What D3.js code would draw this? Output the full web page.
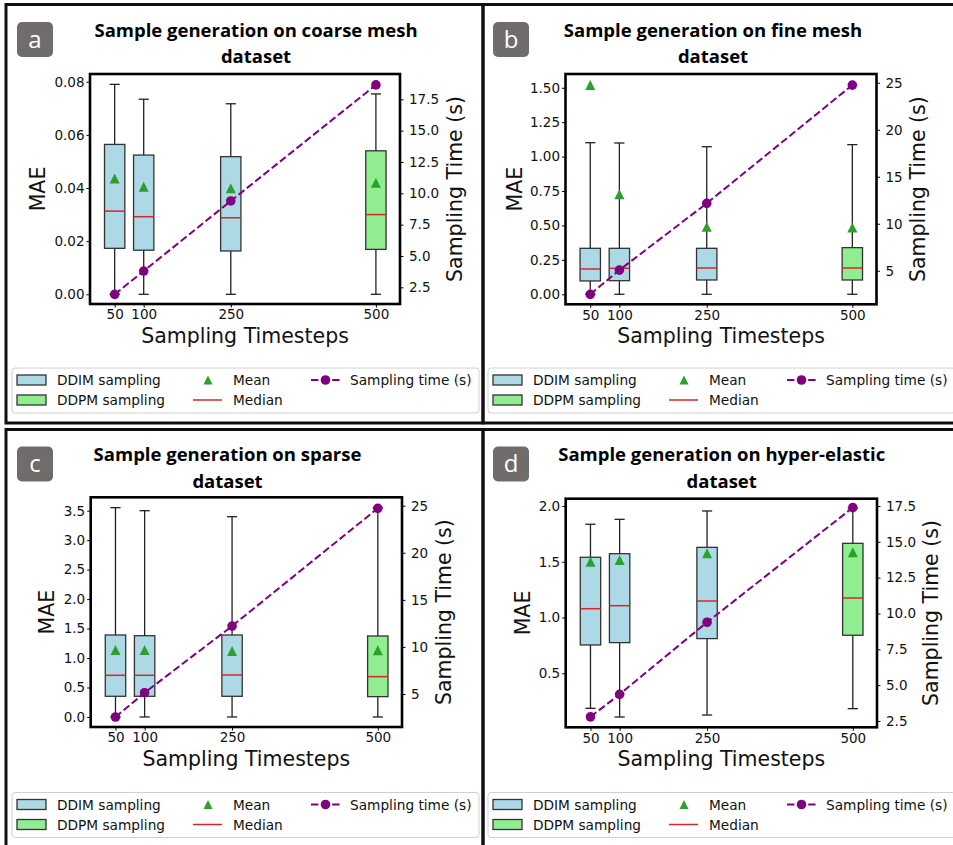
<!DOCTYPE html>
<html>
<head>
<meta charset="utf-8">
<script src="https://cdn.jsdelivr.net/npm/d3@7"></script>
<style>
  body { margin: 0; background: #fff; }
  svg { display: block; }
</style>
</head>
<body>
<svg id="fig" width="953" height="845"></svg>
<script>
// sampling timesteps (x categories)
const steps = [50, 100, 250, 500];

// a: coarse mesh
const coarseLow = [0, 0, 0, 0];
const coarseQ1 = [0.0173, 0.0166, 0.0163, 0.0169];
const coarseMedian = [0.0313, 0.0292, 0.0288, 0.0300];
const coarseQ3 = [0.0564, 0.0524, 0.0518, 0.0540];
const coarseHigh = [0.0790, 0.0734, 0.0717, 0.0754];
const coarseMean = [0.0436, 0.0405, 0.0399, 0.0420];
const coarseTime = [1.94, 3.80, 9.39, 18.65];

// b: fine mesh
const fineLow = [0, 0, 0, 0];
const fineQ1 = [0.097, 0.099, 0.104, 0.104];
const fineMedian = [0.184, 0.189, 0.191, 0.191];
const fineQ3 = [0.334, 0.334, 0.334, 0.339];
const fineHigh = [1.101, 1.099, 1.072, 1.087];
const fineMean = [1.52, 0.726, 0.491, 0.486];
const fineTime = [2.49, 5.07, 12.17, 24.75];

// c: sparse
const sparseLow = [0, 0, 0, 0];
const sparseQ1 = [0.351, 0.351, 0.351, 0.345];
const sparseMedian = [0.707, 0.707, 0.712, 0.684];
const sparseQ3 = [1.391, 1.379, 1.391, 1.374];
const sparseHigh = [3.551, 3.50, 3.398, 3.55];
const sparseMean = [1.137, 1.137, 1.12, 1.13];
const sparseTime = [2.56, 5.14, 12.22, 24.72];

// d: hyper-elastic
const hyperLow = [0.186, 0.108, 0.126, 0.183];
const hyperQ1 = [0.754, 0.775, 0.811, 0.841];
const hyperMedian = [1.079, 1.106, 1.148, 1.175];
const hyperQ3 = [1.540, 1.572, 1.629, 1.665];
const hyperHigh = [1.836, 1.880, 1.955, 1.98];
const hyperMean = [1.50, 1.516, 1.576, 1.585];
const hyperTime = [2.79, 4.36, 9.39, 17.39];

// tick labels
const coarseTicks = [0, 0.02, 0.04, 0.06, 0.08];
const fineTicks = [0, 0.25, 0.5, 0.75, 1.0, 1.25, 1.5];
const sparseTicks = [0, 0.5, 1.0, 1.5, 2.0, 2.5, 3.0, 3.5];
const hyperTicks = [0.5, 1.0, 1.5, 2.0];
const timeTicksA = [2.5, 5, 7.5, 10, 12.5, 15, 17.5];
const timeTicksB = [5, 10, 15, 20, 25];

const methods = ["DDIM", "DDIM", "DDIM", "DDPM"];
const fills = { DDIM: "#add8e6", DDPM: "#90ee90" };

const panels = [
  { label: "a", title: ["Sample generation on coarse mesh", "dataset"],
    low: coarseLow, q1: coarseQ1, med: coarseMedian, q3: coarseQ3, high: coarseHigh, mean: coarseMean, time: coarseTime,
    yTicks: coarseTicks, yFmt: ".2f", tTicks: timeTicksA, tFmt: ".1f",
    yDomain: [-0.00365, 0.0829], tDomain: [1.17, 19.52],
    plot: [90, 400, 74, 304], ox: 0, oy: 0, titleX: 256, maeX: 38, timeX: 455 },
  { label: "b", title: ["Sample generation on fine mesh", "dataset"],
    low: fineLow, q1: fineQ1, med: fineMedian, q3: fineQ3, high: fineHigh, mean: fineMean, time: fineTime,
    yTicks: fineTicks, yFmt: ".2f", tTicks: timeTicksB, tFmt: "d",
    yDomain: [-0.0726, 1.600], tDomain: [1.43, 25.93],
    plot: [565.5, 876.5, 74, 304.3], ox: 476, oy: 0, titleX: 713, maeX: 514.5, timeX: 918 },
  { label: "c", title: ["Sample generation on sparse", "dataset"],
    low: sparseLow, q1: sparseQ1, med: sparseMedian, q3: sparseQ3, high: sparseHigh, mean: sparseMean, time: sparseTime,
    yTicks: sparseTicks, yFmt: ".1f", tTicks: timeTicksB, tFmt: "d",
    yDomain: [-0.17, 3.727], tDomain: [1.50, 25.89],
    plot: [90.7, 402, 497.3, 727], ox: 0, oy: 424.5, titleX: 227.5, maeX: 46.5, timeX: 443.5 },
  { label: "d", title: ["Sample generation on hyper-elastic", "dataset"],
    low: hyperLow, q1: hyperQ1, med: hyperMedian, q3: hyperQ3, high: hyperHigh, mean: hyperMean, time: hyperTime,
    yTicks: hyperTicks, yFmt: ".1f", tTicks: timeTicksA, tFmt: ".1f",
    yDomain: [0.016, 2.065], tDomain: [2.06, 18.01],
    plot: [565.7, 877, 498.7, 727.3], ox: 476, oy: 424.5, titleX: 721.7, maeX: 523, timeX: 931 }
];

const svg = d3.select("#fig");
const FONT = "'DejaVu Sans', sans-serif";

// panel frames
svg.append("rect").attr("x", 6).attr("y", 4.5).attr("width", 477).attr("height", 418.5)
  .attr("fill", "none").attr("stroke", "#111").attr("stroke-width", 3);
svg.append("rect").attr("x", 483).attr("y", 4.5).attr("width", 480).attr("height", 418.5)
  .attr("fill", "none").attr("stroke", "#111").attr("stroke-width", 3);
svg.append("rect").attr("x", 6).attr("y", 429.5).attr("width", 477).attr("height", 430)
  .attr("fill", "none").attr("stroke", "#111").attr("stroke-width", 3);
svg.append("rect").attr("x", 483).attr("y", 429.5).attr("width", 480).attr("height", 430)
  .attr("fill", "none").attr("stroke", "#111").attr("stroke-width", 3);

panels.forEach(p => {
  const [x0, x1, y0, y1] = p.plot;
  const x = d3.scaleLinear().domain([7.5, 541.5]).range([x0, x1]);
  const y = d3.scaleLinear().domain(p.yDomain).range([y1, y0]);
  const t = d3.scaleLinear().domain(p.tDomain).range([y1, y0]);
  const g = svg.append("g");

  // letter badge
  g.append("rect").attr("x", p.ox + 17).attr("y", p.oy + 22).attr("width", 36).attr("height", 35)
    .attr("rx", 5).attr("fill", "#6f6c6b");
  g.append("text").attr("x", p.ox + 35).attr("y", p.oy + 47.5).attr("text-anchor", "middle")
    .attr("font-family", "'Open Sans', sans-serif").attr("font-size", 24).attr("fill", "#fff").text(p.label);

  // title
  g.selectAll(".title").data(p.title).join("text")
    .attr("x", p.titleX).attr("y", (d, i) => p.oy + 36.5 + i * 26.8)
    .attr("text-anchor", "middle").attr("font-family", "'Open Sans', sans-serif")
    .attr("font-weight", "bold").attr("font-size", 18.5).attr("fill", "#000").text(d => d);

  const boxes = steps.map((s, i) => ({
    step: s, method: methods[i], low: p.low[i], q1: p.q1[i], med: p.med[i],
    q3: p.q3[i], high: p.high[i], mean: p.mean[i]
  }));
  const half = (x(35) - x(0)) / 2;

  // whiskers, boxes, medians
  const bg = g.selectAll(".box").data(boxes).join("g");
  bg.append("line").attr("x1", d => x(d.step)).attr("x2", d => x(d.step))
    .attr("y1", d => y(d.low)).attr("y2", d => y(d.q1)).attr("stroke", "#222").attr("stroke-width", 1.3);
  bg.append("line").attr("x1", d => x(d.step)).attr("x2", d => x(d.step))
    .attr("y1", d => y(d.q3)).attr("y2", d => y(d.high)).attr("stroke", "#222").attr("stroke-width", 1.3);
  bg.append("line").attr("x1", d => x(d.step) - half / 2).attr("x2", d => x(d.step) + half / 2)
    .attr("y1", d => y(d.low)).attr("y2", d => y(d.low)).attr("stroke", "#222").attr("stroke-width", 1.3);
  bg.append("line").attr("x1", d => x(d.step) - half / 2).attr("x2", d => x(d.step) + half / 2)
    .attr("y1", d => y(d.high)).attr("y2", d => y(d.high)).attr("stroke", "#222").attr("stroke-width", 1.3);
  bg.append("rect").attr("x", d => x(d.step) - half).attr("width", half * 2)
    .attr("y", d => y(d.q3)).attr("height", d => y(d.q1) - y(d.q3))
    .attr("fill", d => fills[d.method]).attr("stroke", "#333").attr("stroke-width", 1.3);
  bg.append("line").attr("x1", d => x(d.step) - half).attr("x2", d => x(d.step) + half)
    .attr("y1", d => y(d.med)).attr("y2", d => y(d.med)).attr("stroke", "#d62728").attr("stroke-width", 1.5);

  // means
  g.selectAll(".mean").data(boxes).join("path")
    .attr("d", d => `M${x(d.step)},${y(d.mean) - 5}L${x(d.step) + 5},${y(d.mean) + 5}L${x(d.step) - 5},${y(d.mean) + 5}Z`)
    .attr("fill", "#2ca02c");

  // sampling time
  const pts = steps.map((s, i) => [s, p.time[i]]);
  g.append("path").datum(pts)
    .attr("d", d3.line().x(d => x(d[0])).y(d => t(d[1])))
    .attr("fill", "none").attr("stroke", "#800080").attr("stroke-width", 2)
    .attr("stroke-dasharray", "7.4,3.2");
  g.selectAll(".tp").data(pts).join("circle")
    .attr("cx", d => x(d[0])).attr("cy", d => t(d[1])).attr("r", 4.8).attr("fill", "#800080");

  // axes
  const styleAxis = a => {
    a.attr("font-family", FONT);
    a.select(".domain").remove();
    a.selectAll("line").attr("stroke", "#000").attr("stroke-width", 1);
    a.selectAll("text").attr("font-family", FONT).attr("font-size", 13.5).attr("fill", "#111");
  };
  g.append("g").attr("transform", `translate(${x0},0)`)
    .call(d3.axisLeft(y).tickValues(p.yTicks).tickFormat(d3.format(p.yFmt)).tickSize(3.5).tickPadding(2))
    .call(styleAxis);
  g.append("g").attr("transform", `translate(${x1},0)`)
    .call(d3.axisRight(t).tickValues(p.tTicks).tickFormat(d3.format(p.tFmt)).tickSize(3.5).tickPadding(5.5))
    .call(styleAxis);
  g.append("g").attr("transform", `translate(0,${y1})`)
    .call(d3.axisBottom(x).tickValues(steps).tickSize(3.5).tickPadding(2.4))
    .call(styleAxis);

  // spines
  g.append("rect").attr("x", x0).attr("y", y0).attr("width", x1 - x0).attr("height", y1 - y0)
    .attr("fill", "none").attr("stroke", "#000").attr("stroke-width", 2.6);

  // axis labels
  g.append("text").attr("x", (x0 + x1) / 2).attr("y", y1 + 39).attr("text-anchor", "middle")
    .attr("font-family", FONT).attr("font-size", 20.5).attr("fill", "#111").text("Sampling Timesteps");
  g.append("text").attr("transform", `translate(${p.maeX + 7},${(y0 + y1) / 2}) rotate(-90)`)
    .attr("text-anchor", "middle").attr("font-family", FONT).attr("font-size", 20.5)
    .attr("fill", "#111").text("MAE");
  g.append("text").attr("transform", `translate(${p.timeX + 7},${(y0 + y1) / 2}) rotate(-90)`)
    .attr("text-anchor", "middle").attr("font-family", FONT).attr("font-size", 20.5)
    .attr("fill", "#111").text("Sampling Time (s)");

  // legend
  const L = p.ox + 12, T = p.oy + 368;
  const lg = g.append("g").attr("transform", `translate(${L},${T})`);
  lg.append("rect").attr("x", 0).attr("y", 0).attr("width", 467).attr("height", 45).attr("rx", 3)
    .attr("fill", "#fff").attr("stroke", "#d0d0d0").attr("stroke-width", 1);
  const lt = (tx, ty, s) => lg.append("text").attr("x", tx).attr("y", ty)
    .attr("font-family", FONT).attr("font-size", 13.7).attr("fill", "#111").text(s);
  ["DDIM", "DDPM"].forEach((m, i) => {
    lg.append("rect").attr("x", 5).attr("y", 7 + i * 20).attr("width", 29).attr("height", 10)
      .attr("fill", fills[m]).attr("stroke", "#333").attr("stroke-width", 1.3);
    lt(45, 17 + i * 20, m + " sampling");
  });
  lg.append("path").attr("d", "M196,7.5L200.5,16.5L191.5,16.5Z").attr("fill", "#2ca02c");
  lt(221, 17, "Mean");
  lg.append("line").attr("x1", 181).attr("x2", 210).attr("y1", 32).attr("y2", 32)
    .attr("stroke", "#d62728").attr("stroke-width", 1.5);
  lt(221, 37, "Median");
  lg.append("line").attr("x1", 299).attr("x2", 328).attr("y1", 12).attr("y2", 12)
    .attr("stroke", "#800080").attr("stroke-width", 2).attr("stroke-dasharray", "7.4,3.2");
  lg.append("circle").attr("cx", 313.5).attr("cy", 12).attr("r", 4.8).attr("fill", "#800080");
  lt(338, 17, "Sampling time (s)");
});
</script>
</body>
</html>
